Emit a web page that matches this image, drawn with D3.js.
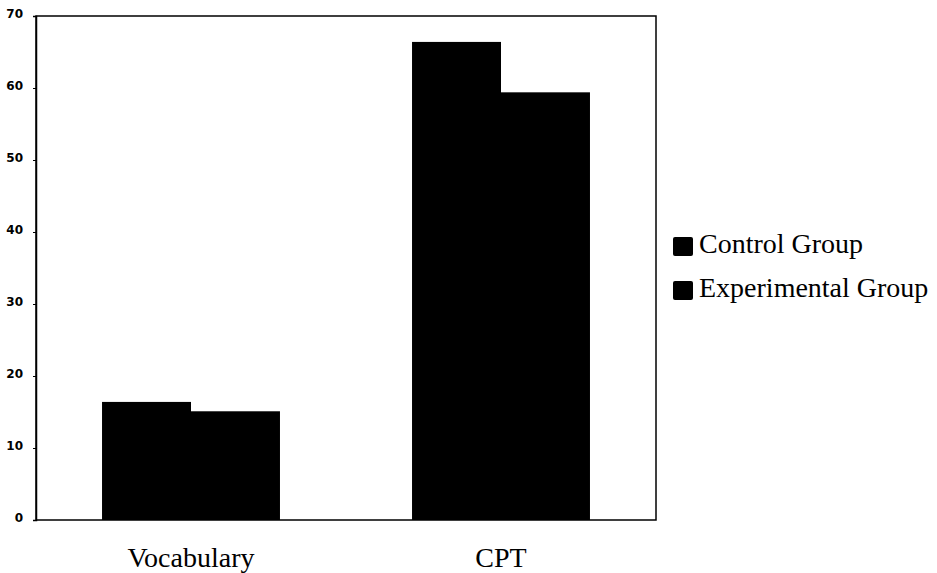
<!DOCTYPE html>
<html>
<head>
<meta charset="utf-8">
<script src="https://cdn.jsdelivr.net/npm/d3@7"></script>
<style>
  body { margin: 0; background: #fff; }
</style>
</head>
<body>
<script>
// Data
const categories = ["Vocabulary", "CPT"];
const groups = ["Control Group", "Experimental Group"];
const controlValues = [16.4, 66.4];
const experimentalValues = [15.1, 59.4];
const yTicks = [0, 10, 20, 30, 40, 50, 60, 70];

const width = 937;
const height = 573;
const plot = { left: 36, right: 656, top: 16, bottom: 520 };

const svg = d3
  .select("body")
  .append("svg")
  .attr("width", width)
  .attr("height", height);

// scales
const xScale = d3
  .scaleBand()
  .domain(categories)
  .range([plot.left, plot.right])
  .paddingInner(0.426)
  .paddingOuter(0.213);

const xSub = d3
  .scaleBand()
  .domain(groups)
  .range([0, xScale.bandwidth()]);

const yScale = d3.scaleLinear().domain([0, 70]).range([plot.bottom, plot.top]);

const color = d3.scaleOrdinal().domain(groups).range(["#000", "#000"]);

// rows for the bars
const rows = categories.map((c, i) => ({
  category: c,
  values: [
    { group: groups[0], value: controlValues[i] },
    { group: groups[1], value: experimentalValues[i] },
  ],
}));

// frame
svg
  .append("rect")
  .attr("x", plot.left)
  .attr("y", plot.top)
  .attr("width", plot.right - plot.left)
  .attr("height", plot.bottom - plot.top)
  .attr("fill", "none")
  .attr("stroke", "#000")
  .attr("stroke-width", 1.5);

// bars
svg
  .selectAll("g.cat")
  .data(rows)
  .enter()
  .append("g")
  .attr("class", "cat")
  .attr("transform", (d) => "translate(" + xScale(d.category) + ",0)")
  .selectAll("rect")
  .data((d) => d.values)
  .enter()
  .append("rect")
  .attr("x", (d) => xSub(d.group))
  .attr("y", (d) => yScale(d.value))
  .attr("width", xSub.bandwidth())
  .attr("height", (d) => plot.bottom - yScale(d.value))
  .attr("fill", (d) => color(d.group));

// y axis
const yAxis = d3
  .axisLeft(yScale)
  .tickValues(yTicks)
  .tickSize(3)
  .tickPadding(10);

const yG = svg
  .append("g")
  .attr("transform", "translate(" + plot.left + ",0)")
  .call(yAxis);
yG.select(".domain").attr("stroke-width", 1.5);
yG.selectAll("text")
  .style("font-family", "DejaVu Sans, sans-serif")
  .style("font-size", "12px")
  .style("font-weight", "bold")
  .attr("dy", "0.1em");

// x labels
svg
  .selectAll("text.xlab")
  .data(categories)
  .enter()
  .append("text")
  .attr("class", "xlab")
  .attr("x", (d) => xScale(d) + xScale.bandwidth() / 2)
  .attr("y", 567)
  .attr("text-anchor", "middle")
  .style("font-family", "Liberation Serif, serif")
  .style("font-size", "28px")
  .text((d) => d);

// legend
const legend = svg
  .selectAll("g.legend")
  .data(groups)
  .enter()
  .append("g")
  .attr("class", "legend")
  .attr("transform", (d, i) => "translate(673," + (243 + i * 44) + ")");

legend
  .append("rect")
  .attr("x", 0)
  .attr("y", -6)
  .attr("width", 20)
  .attr("height", 19)
  .attr("rx", 2)
  .attr("fill", (d) => color(d));

legend
  .append("text")
  .attr("x", 26)
  .attr("y", 10)
  .style("font-family", "Liberation Serif, serif")
  .style("font-size", "28px")
  .text((d) => d);
</script>
</body>
</html>
